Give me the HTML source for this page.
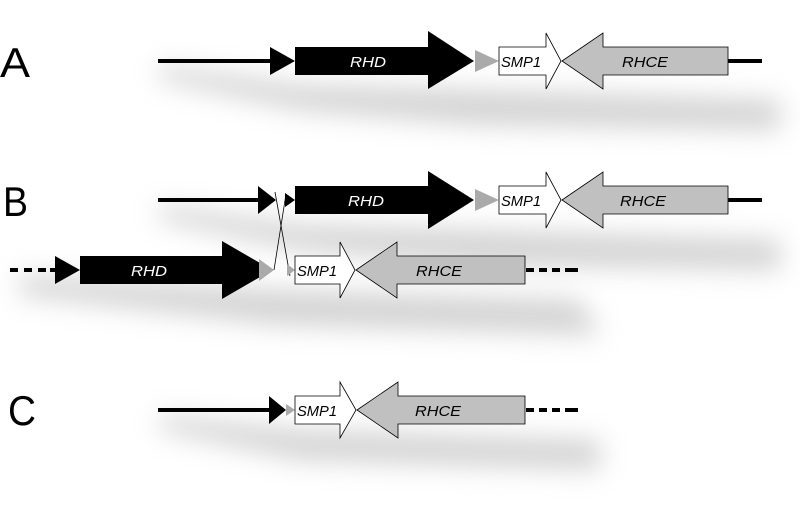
<!DOCTYPE html>
<html><head><style>
html,body{margin:0;padding:0;background:#fff;width:800px;height:509px;overflow:hidden}
svg{display:block}
text{font-family:"Liberation Sans",sans-serif;font-style:italic}
</style></head><body>
<svg width="800" height="509" viewBox="0 0 800 509">
<defs><filter id="b" x="-20%" y="-100%" width="140%" height="300%"><feGaussianBlur stdDeviation="13"/></filter></defs>
<g filter="url(#b)" fill="#bbb" opacity="0.65">
<polygon points="160,65 300,85 480,90 780,100 780,130 480,125 300,110 160,80"/>
<polygon points="160,205 300,225 480,230 780,240 780,270 480,265 300,250 160,220"/>
<polygon points="20,275 280,290 580,300 600,335 280,325 20,295"/>
<polygon points="160,415 300,430 600,440 600,470 300,460 160,430"/>
</g>
<g font-size="42" fill="#000">
<text x="0" y="77" style="font-style:normal" textLength="30" lengthAdjust="spacingAndGlyphs">A</text>
<text x="3" y="216" style="font-style:normal" textLength="25" lengthAdjust="spacingAndGlyphs">B</text>
<text x="8" y="425" style="font-style:normal" textLength="28" lengthAdjust="spacingAndGlyphs">C</text>
</g>
<!-- Row A -->
<rect x="158" y="59" width="112" height="4" fill="#000"/>
<polygon points="270,47 295,61 270,75" fill="#000"/>
<polygon points="295,47 428,47 428,31 474,61 428,89 428,75 295,75" fill="#000"/>
<text x="350" y="67" font-size="15" fill="#fff" textLength="36" lengthAdjust="spacingAndGlyphs">RHD</text>
<polygon points="475,50 499,61 475,72" fill="#aaa"/>
<polygon points="499,47 546,47 546,33 561,61 546,89 546,75 499,75" fill="#fff" stroke="#000" stroke-width="0.8"/>
<text x="501" y="67" font-size="15" fill="#000" textLength="40" lengthAdjust="spacingAndGlyphs">SMP1</text>
<polygon points="562,61 603,33 603,47 728,47 728,75 603,75 603,89" fill="#c0c0c0" stroke="#000" stroke-width="0.8"/>
<text x="622" y="67" font-size="15" fill="#000" textLength="46" lengthAdjust="spacingAndGlyphs">RHCE</text>
<rect x="728" y="59" width="34" height="4" fill="#000"/>
<!-- Row B top -->
<rect x="158" y="198" width="100" height="4" fill="#000"/>
<polygon points="258,186 276,200 258,214" fill="#000"/>
<polygon points="285,193 295,200 285,207" fill="#000"/>
<polygon points="295,186 428,186 428,171 474,200 428,229 428,214 295,214" fill="#000"/>
<text x="348" y="206" font-size="15" fill="#fff" textLength="36" lengthAdjust="spacingAndGlyphs">RHD</text>
<polygon points="475,189 499,200 475,211" fill="#aaa"/>
<polygon points="499,186 546,186 546,172 561,200 546,228 546,214 499,214" fill="#fff" stroke="#000" stroke-width="0.8"/>
<text x="501" y="206" font-size="15" fill="#000" textLength="40" lengthAdjust="spacingAndGlyphs">SMP1</text>
<polygon points="562,200 603,172 603,186 728,186 728,214 603,214 603,228" fill="#c0c0c0" stroke="#000" stroke-width="0.8"/>
<text x="620" y="206" font-size="15" fill="#000" textLength="46" lengthAdjust="spacingAndGlyphs">RHCE</text>
<rect x="728" y="198" width="34" height="4" fill="#000"/>
<!-- cross -->
<line x1="275" y1="192" x2="290" y2="276" stroke="#000" stroke-width="0.8"/>
<line x1="286" y1="194" x2="274" y2="270" stroke="#000" stroke-width="0.8"/>
<!-- Row B bottom -->
<g fill="#000"><rect x="10" y="268" width="8" height="4"/><rect x="24" y="268" width="8" height="4"/><rect x="38" y="268" width="8" height="4"/><rect x="50" y="268" width="6" height="4"/></g>
<polygon points="55,256 80,270 55,284" fill="#000"/>
<polygon points="80,256 222,256 222,241 272,270 222,299 222,284 80,284" fill="#000"/>
<text x="131" y="276" font-size="15" fill="#fff" textLength="36" lengthAdjust="spacingAndGlyphs">RHD</text>
<polygon points="259,259 274,270 259,281" fill="#aaa"/>
<polygon points="287,264 295,270 287,276" fill="#aaa"/>
<polygon points="295,256 340,256 340,242 355,270 340,298 340,284 295,284" fill="#fff" stroke="#000" stroke-width="0.8"/>
<text x="297" y="276" font-size="15" fill="#000" textLength="40" lengthAdjust="spacingAndGlyphs">SMP1</text>
<polygon points="356,270 397,242 397,256 525,256 525,284 397,284 397,298" fill="#c0c0c0" stroke="#000" stroke-width="0.8"/>
<text x="416" y="276" font-size="15" fill="#000" textLength="46" lengthAdjust="spacingAndGlyphs">RHCE</text>
<g fill="#000"><rect x="526" y="268" width="8" height="4"/><rect x="539" y="268" width="8" height="4"/><rect x="552" y="268" width="8" height="4"/><rect x="565" y="268" width="13" height="4"/></g>
<!-- Row C -->
<rect x="158" y="408" width="112" height="4" fill="#000"/>
<polygon points="269,396 286,410 269,424" fill="#000"/>
<polygon points="286,404 295,410 286,416" fill="#aaa"/>
<polygon points="295,396 340,396 340,382 356,410 340,438 340,424 295,424" fill="#fff" stroke="#000" stroke-width="0.8"/>
<text x="297" y="416" font-size="15" fill="#000" textLength="40" lengthAdjust="spacingAndGlyphs">SMP1</text>
<polygon points="357,410 398,382 398,396 525,396 525,424 398,424 398,438" fill="#c0c0c0" stroke="#000" stroke-width="0.8"/>
<text x="415" y="416" font-size="15" fill="#000" textLength="46" lengthAdjust="spacingAndGlyphs">RHCE</text>
<g fill="#000"><rect x="526" y="408" width="8" height="4"/><rect x="539" y="408" width="8" height="4"/><rect x="552" y="408" width="8" height="4"/><rect x="565" y="408" width="13" height="4"/></g>
</svg>
</body></html>
